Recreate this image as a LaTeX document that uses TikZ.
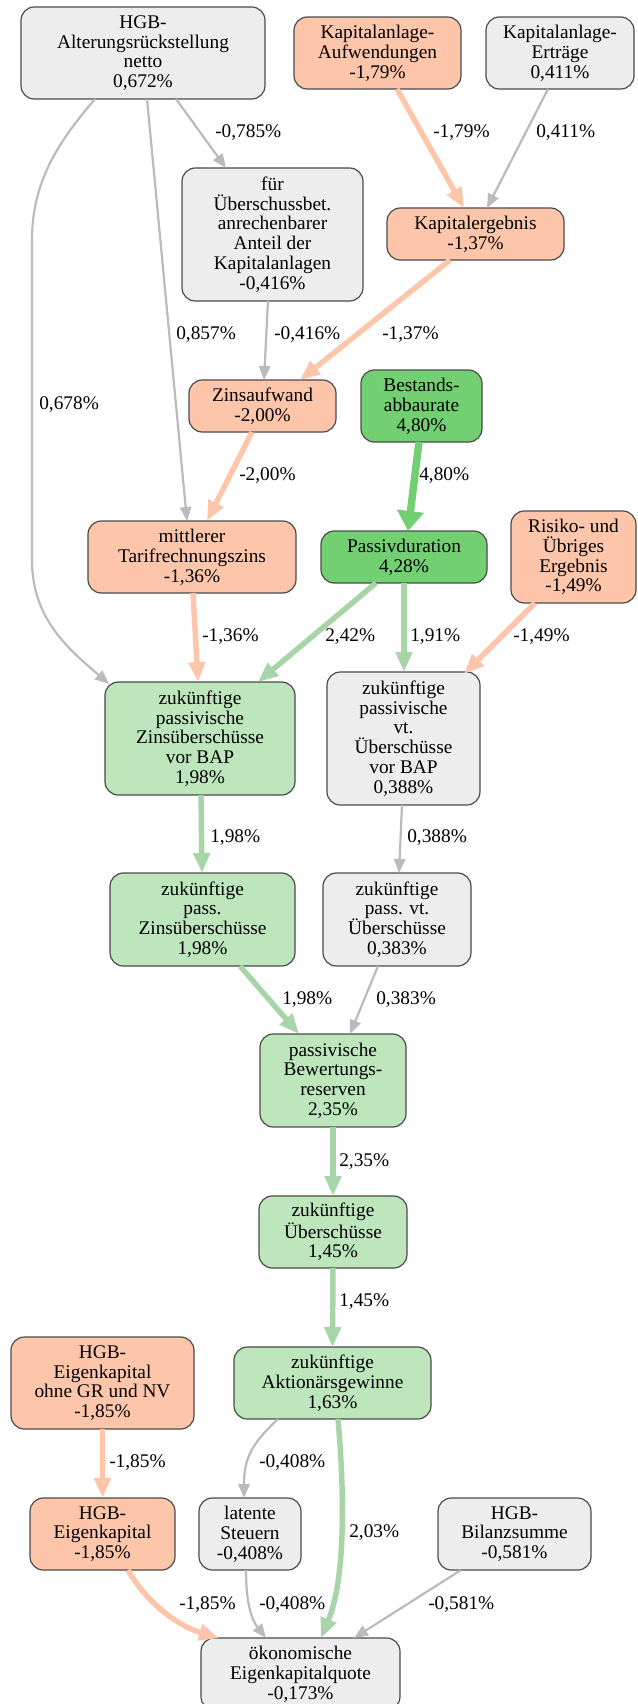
\documentclass[tikz,border=0pt]{standalone}
\usepackage{fontspec}
\setmainfont{Liberation Serif}
\usetikzlibrary{arrows.meta,calc}
\definecolor{boxgray}{HTML}{EDEDED}
\definecolor{boxpeach}{HTML}{FDC6AA}
\definecolor{boxgreen}{HTML}{BDE6BD}
\definecolor{boxstrong}{HTML}{73D072}
\definecolor{linegray}{HTML}{BBBBBB}
\definecolor{linepeach}{HTML}{FDC6AA}
\definecolor{linegreen}{HTML}{A8D5A8}
\definecolor{linestrong}{HTML}{73D072}
\definecolor{frame}{HTML}{4A4A4A}
\tikzset{
  box/.style={draw=frame, line width=0.9pt, rounded corners=10pt, align=center,
              inner sep=0pt, outer sep=0pt},
  sz/.style 2 args={minimum width=#1*0.75pt, minimum height=#2*0.75pt},
  gbox/.style={box, fill=boxgray},
  pbox/.style={box, fill=boxpeach},
  lgbox/.style={box, fill=boxgreen},
  sgbox/.style={box, fill=boxstrong},
  lbl/.style={anchor=west, inner sep=0pt},
  gline/.style={draw=linegray, line width=1.65pt, -{Triangle[length=10.5pt,width=8.5pt]}},
  pline/.style={draw=linepeach, line width=4.1pt, -{Triangle[length=15pt,width=12pt]}},
  lgline/.style={draw=linegreen, line width=4.1pt, -{Triangle[length=15pt,width=12pt]}},
  sgline/.style={draw=linestrong, line width=5.6pt, -{Triangle[length=15pt,width=19.5pt]}},
}
\begin{document}
\begin{tikzpicture}[x=0.75pt,y=-0.75pt,
  every node/.style={font=\fontsize{14.5}{14.85}\selectfont}]
\useasboundingbox (0,0) rectangle (637,1704);

% ---------- nodes ----------
\node[gbox, sz={244}{92}] (alt) at (143,53) {HGB-\\Alterungsrückstellung\\netto\\0,672\%};
\node[pbox, sz={167}{72}] (kaufw) at (377.5,53) {Kapitalanlage-\\Aufwendungen\\-1,79\%};
\node[gbox, sz={148}{72}] (kertr) at (560,53) {Kapitalanlage-\\Erträge\\0,411\%};
\node[gbox, sz={181}{133}] (fuer) at (272.5,234.5) {für\\Überschussbet.\\anrechenbarer\\Anteil der\\Kapitalanlagen\\-0,416\%};
\node[pbox, sz={177}{52}] (kerg) at (475.5,234) {Kapitalergebnis\\-1,37\%};
\node[pbox, sz={147}{52}] (zins) at (262.5,406) {Zinsaufwand\\-2,00\%};
\node[sgbox, sz={121}{72}] (bestand) at (421.5,406) {Bestands-\\abbaurate\\4,80\%};
\node[pbox, sz={208}{72}] (mittl) at (192,557) {mittlerer\\Tarifrechnungszins\\-1,36\%};
\node[sgbox, sz={166}{52}] (pdur) at (404,557) {Passivduration\\4,28\%};
\node[pbox, sz={125}{92}] (risiko) at (573.5,557) {Risiko- und\\Übriges\\Ergebnis\\-1,49\%};
\node[lgbox, sz={190}{113}] (zpzvb) at (200,738.5) {zukünftige\\passivische\\Zinsüberschüsse\\vor BAP\\1,98\%};
\node[gbox, sz={153}{133}] (zpvvb) at (403.5,738.5) {zukünftige\\passivische\\vt.\\Überschüsse\\vor BAP\\0,388\%};
\node[lgbox, sz={185}{93}] (zpz) at (202.5,919.5) {zukünftige\\pass.\\Zinsüberschüsse\\1,98\%};
\node[gbox, sz={148}{93}] (zpv) at (397,919.5) {zukünftige\\pass. vt.\\Überschüsse\\0,383\%};
\node[lgbox, sz={146}{93}] (pbew) at (333,1080.5) {passivische\\Bewertungs-\\reserven\\2,35\%};
\node[lgbox, sz={148}{72}] (zue) at (333,1232) {zukünftige\\Überschüsse\\1,45\%};
\node[pbox, sz={183}{92}] (ekohne) at (102.5,1383) {HGB-\\Eigenkapital\\ohne GR und NV\\-1,85\%};
\node[lgbox, sz={197}{72}] (aktg) at (332.5,1383) {zukünftige\\Aktionärsgewinne\\1,63\%};
\node[pbox, sz={145}{72}] (ek) at (102.5,1534) {HGB-\\Eigenkapital\\-1,85\%};
\node[gbox, sz={102}{72}] (lat) at (250,1534) {latente\\Steuern\\-0,408\%};
\node[gbox, sz={153}{72}] (bil) at (514.5,1534) {HGB-\\Bilanzsumme\\-0,581\%};
\node[gbox, sz={199}{72}] (oek) at (300.5,1674) {ökonomische\\Eigenkapitalquote\\-0,173\%};

% ---------- connectors ----------
\draw[gline] ($(alt.south)+(33,0)$) -- ($(fuer.north)+(-46.5,0)$);
\draw[gline] ($(alt.south)+(4,0)$) -- ($(mittl.north)+(-5,0)$);
\draw[gline] ($(alt.south)+(-48,0)$) .. controls (60,140) and (32,180) .. (32,240)
  -- (32,560) .. controls (32,620) and (70,650) .. ($(zpzvb.north west)+(4,2)$);
\draw[pline] ($(kaufw.south)+(19.5,0)$) -- ($(kerg.north)+(-11.5,0)$);
\draw[gline] ($(kertr.south)+(-12,0)$) -- ($(kerg.north)+(11.5,0)$);
\draw[gline] ($(fuer.south)+(-4.5,0)$) -- ($(zins.north)+(1.5,0)$);
\draw[pline] ($(kerg.south)+(-25.5,0)$) -- ($(zins.north)+(37.5,0)$);
\draw[pline] ($(zins.south)+(-10.5,0)$) -- ($(mittl.north)+(15,0)$);
\draw[sgline] ($(bestand.south)+(-2.5,0)$) -- ($(pdur.north)+(4,0)$);
\draw[pline] ($(mittl.south)+(1,0)$) -- ($(zpzvb.north)+(-2,0)$);
\draw[lgline] ($(pdur.south)+(-28,0)$) -- ($(zpzvb.north)+(58,0)$);
\draw[lgline] ($(pdur.south)+(0,0)$) -- ($(zpvvb.north)+(0.5,0)$);
\draw[pline] ($(risiko.south)+(-38.5,0)$) -- ($(zpvvb.north east)+(-16,2)$);
\draw[lgline] ($(zpzvb.south)+(1,0)$) -- ($(zpz.north)+(-0.5,0)$);
\draw[gline] ($(zpvvb.south)+(-1.5,0)$) -- ($(zpv.north)+(2,0)$);
\draw[lgline] ($(zpz.south)+(37.5,0)$) -- ($(pbew.north)+(-34,0)$);
\draw[gline] ($(zpv.south)+(-19,0)$) -- ($(pbew.north)+(17,0)$);
\draw[lgline] (pbew.south) -- (zue.north);
\draw[lgline] (zue.south) -- (aktg.north);
\draw[pline] (ekohne.south) -- (ek.north);
\draw[gline] ($(aktg.south)+(-54.5,0)$) .. controls (250,1445) and (244,1460) .. ($(lat.north)+(-6,0)$);
\draw[lgline] ($(aktg.south)+(5.5,0)$) .. controls (345,1500) and (345,1580) .. ($(oek.north)+(20.5,0)$);
\draw[pline] ($(ek.south)+(25.5,0)$) .. controls (145,1600) and (175,1625) .. ($(oek.north)+(-81.5,0)$);
\draw[gline] ($(lat.south)+(-4,0)$) .. controls (246,1605) and (252,1620) .. ($(oek.north)+(-34.5,0)$);
\draw[gline] ($(bil.south)+(-53.5,0)$) -- ($(oek.north)+(53.5,0)$);

% ---------- connector labels ----------
\node[lbl] (l01) at (215,133) {-0,785\%};
\node[lbl] (l02) at (433,133) {-1,79\%};
\node[lbl] (l03) at (536,133) {0,411\%};
\node[lbl] (l04) at (176,335) {0,857\%};
\node[lbl] (l05) at (274,335) {-0,416\%};
\node[lbl] (l06) at (382,335) {-1,37\%};
\node[lbl] (l07) at (39,405) {0,678\%};
\node[lbl] (l08) at (239,476) {-2,00\%};
\node[lbl] (l09) at (419,476) {4,80\%};
\node[lbl] (l10) at (202,637) {-1,36\%};
\node[lbl] (l11) at (325,637) {2,42\%};
\node[lbl] (l12) at (410,637) {1,91\%};
\node[lbl] (l13) at (513,637) {-1,49\%};
\node[lbl] (l14) at (210,838) {1,98\%};
\node[lbl] (l15) at (407,838) {0,388\%};
\node[lbl] (l16) at (282,1000) {1,98\%};
\node[lbl] (l17) at (376,1000) {0,383\%};
\node[lbl] (l18) at (339,1162) {2,35\%};
\node[lbl] (l19) at (339,1302) {1,45\%};
\node[lbl] (l20) at (109,1463) {-1,85\%};
\node[lbl] (l21) at (259,1463) {-0,408\%};
\node[lbl] (l22) at (349,1533) {2,03\%};
\node[lbl] (l23) at (179,1605) {-1,85\%};
\node[lbl] (l24) at (259,1605) {-0,408\%};
\node[lbl] (l25) at (428,1605) {-0,581\%};
\end{tikzpicture}
\end{document}
